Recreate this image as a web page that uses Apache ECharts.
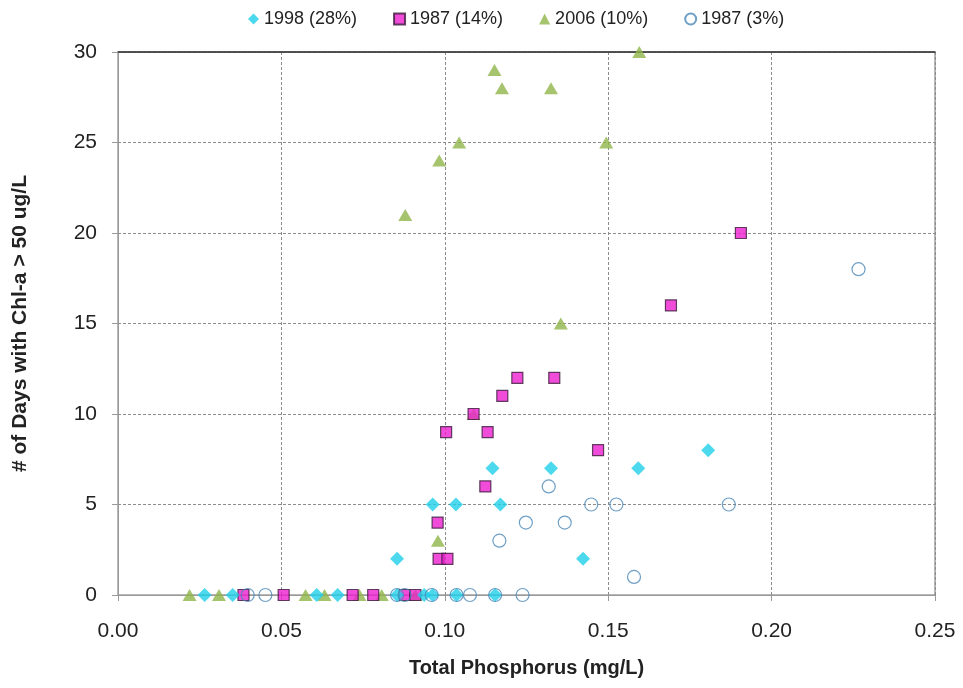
<!DOCTYPE html>
<html>
<head>
<meta charset="utf-8">
<script src="https://cdn.jsdelivr.net/npm/echarts@6/dist/echarts.min.js"></script>
<style>
  html, body { margin: 0; padding: 0; background: #fff; }
  #chart { width: 963px; height: 688px; }
</style>
</head>
<body>
<div id="chart"></div>
<script>
// Total phosphorus (mg/L) vs number of days with Chl-a > 50 ug/L
const seriesNames = ['1998 (28%)', '1987 (14%)', '2006 (10%)', '1987 (3%)'];

const tp1998 = [0.0265, 0.0351, 0.0608, 0.0672, 0.0854, 0.0937, 0.0963, 0.1036, 0.1154,
                0.0854, 0.1423, 0.0963, 0.1034, 0.1170, 0.1146, 0.1325, 0.1592, 0.1806];
const days1998 = [0, 0, 0, 0, 0, 0, 0, 0, 0,
                  2, 2, 5, 5, 5, 7, 7, 7, 8];

const tp1987a = [0.0384, 0.0507, 0.0718, 0.0781, 0.0877, 0.0910,
                 0.0981, 0.1008, 0.0978, 0.1124, 0.1469, 0.1004, 0.1131, 0.1088,
                 0.1176, 0.1222, 0.1335, 0.1692, 0.1906];
const days1987a = [0, 0, 0, 0, 0, 0,
                   2, 2, 4, 6, 8, 9, 9, 10,
                   11, 12, 12, 16, 20];

const tp2006 = [0.0219, 0.0309, 0.0574, 0.0632, 0.0739, 0.0807, 0.0910,
                0.0979, 0.1088, 0.1355, 0.0879, 0.0983, 0.1044, 0.1494,
                0.1175, 0.1325, 0.1152, 0.1595];
const days2006 = [0, 0, 0, 0, 0, 0, 0,
                  3, 10, 15, 21, 24, 25, 25,
                  28, 28, 29, 30];

const tp1987b = [0.0397, 0.0451, 0.0854, 0.0877, 0.0960, 0.1036, 0.1077, 0.1154, 0.1238,
                 0.1579, 0.1167, 0.1248, 0.1367, 0.1448, 0.1525, 0.1869, 0.1318, 0.2266];
const days1987b = [0, 0, 0, 0, 0, 0, 0, 0, 0,
                   1, 3, 4, 4, 5, 5, 5, 6, 18];

const xTicks = { min: 0, max: 0.25, interval: 0.05 };
const yTicks = { min: 0, max: 30, interval: 5 };

const pairs = (xs, ys) => xs.map((x, i) => [x, ys[i]]);

const FONT = "'Liberation Sans', Arial, sans-serif";

const chart = echarts.init(document.getElementById('chart'), null, { renderer: 'canvas' });

const dashed = { show: true, lineStyle: { color: '#8c8c8c', type: [3, 2], width: 1 } };

chart.setOption({
  animation: false,
  backgroundColor: '#ffffff',
  textStyle: { fontFamily: FONT },
  grid: {
    left: 118, right: 28, top: 52, bottom: 93,
    show: true, borderColor: '#6e6e6e', borderWidth: 1
  },
  legend: {
    top: 5,
    left: 243,
    itemGap: 36,
    itemWidth: 11,
    itemHeight: 11,
    textStyle: { fontFamily: FONT, fontSize: 18, color: '#222' },
    data: [
      { name: seriesNames[0], icon: 'diamond' },
      { name: seriesNames[1], icon: 'rect' },
      { name: seriesNames[2], icon: 'triangle' },
      { name: seriesNames[3], icon: 'circle' }
    ]
  },
  xAxis: [{
    type: 'value',
    min: xTicks.min, max: xTicks.max, interval: xTicks.interval,
    name: 'Total Phosphorus (mg/L)',
    nameLocation: 'middle',
    nameGap: 63,
    nameTextStyle: { fontFamily: FONT, fontSize: 20, fontWeight: 'bold', color: '#222' },
    axisLine: { show: true, lineStyle: { color: '#9a9a9a' } },
    axisTick: { show: true, inside: false, length: 6, lineStyle: { color: '#9a9a9a' } },
    axisLabel: { fontFamily: FONT, fontSize: 21, color: '#222', margin: 26,
                 formatter: v => v.toFixed(2) },
    splitLine: dashed
  }, {
    // dark top edge of the plot area
    type: 'value', position: 'top',
    min: xTicks.min, max: xTicks.max,
    axisLine: { show: true, lineStyle: { color: '#333', width: 1.5 } },
    axisTick: { show: false }, axisLabel: { show: false }, splitLine: { show: false }
  }],
  yAxis: {
    type: 'value',
    min: yTicks.min, max: yTicks.max, interval: yTicks.interval,
    name: '# of Days with Chl-a > 50 ug/L',
    nameLocation: 'middle',
    nameGap: 87,
    nameRotate: 90,
    nameTextStyle: { fontFamily: FONT, fontSize: 21, fontWeight: 'bold', color: '#222' },
    axisLine: { show: true, lineStyle: { color: '#9a9a9a' } },
    axisTick: { show: true, inside: false, length: 6, lineStyle: { color: '#9a9a9a' } },
    axisLabel: { fontFamily: FONT, fontSize: 21, color: '#222', margin: 21 },
    splitLine: dashed
  },
  series: [
    {
      name: seriesNames[0], type: 'scatter', symbol: 'diamond', symbolSize: 14,
      itemStyle: { color: '#1fd0ea' },
      data: pairs(tp1998, days1998), z: 4
    },
    {
      name: seriesNames[1], type: 'scatter', symbol: 'rect', symbolSize: 11,
      itemStyle: { color: '#ee1fd0', borderColor: '#3b1a3b', borderWidth: 1.2 },
      data: pairs(tp1987a, days1987a), z: 3
    },
    {
      name: seriesNames[2], type: 'scatter', symbol: 'triangle', symbolSize: [14, 12],
      itemStyle: { color: '#8fb548' },
      data: pairs(tp2006, days2006), z: 2
    },
    {
      name: seriesNames[3], type: 'scatter', symbol: 'circle', symbolSize: 13,
      itemStyle: { color: 'rgba(255,255,255,0)', borderColor: '#4a87b8', borderWidth: 1.2 },
      data: pairs(tp1987b, days1987b), z: 5
    }
  ]
});
</script>
</body>
</html>
